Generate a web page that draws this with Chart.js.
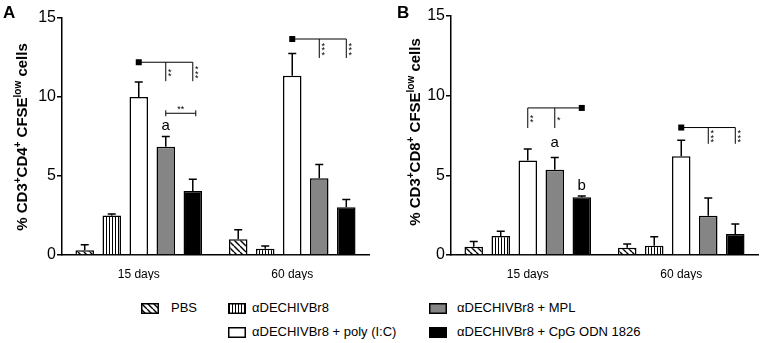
<!DOCTYPE html>
<html>
<head>
<meta charset="utf-8">
<script src="https://cdn.jsdelivr.net/npm/chart.js@4"></script>
<style>
  body { margin:0; background:#fff; }
  #wrap { position:relative; width:762px; height:343px; font-family:"Liberation Sans", Arial, sans-serif; }
  .panel { position:absolute; top:0; }
  .lab { position:absolute; font-weight:bold; font-size:17px; color:#000; }
  .leg { position:absolute; font-size:13px; color:#000; white-space:nowrap; line-height:14px; }
  .sw { position:absolute; }
</style>
</head>
<body>
<div id="wrap">
  <canvas id="chartA" class="panel" style="left:0" width="380" height="280"></canvas>
  <canvas id="chartB" class="panel" style="left:380px" width="382" height="280"></canvas>
  <div class="lab" style="left:3px;top:3px">A</div>
  <div class="lab" style="left:397px;top:3px">B</div>
  <div id="legend"></div>
</div>
<script>
const days = ['15 days', '60 days'];
const groups = ['PBS', 'αDECHIVBr8', 'αDECHIVBr8 + poly (I:C)', 'αDECHIVBr8 + MPL', 'αDECHIVBr8 + CpG ODN 1826'];
const yTicks = [0, 5, 10, 15];

// mean per treatment, [15 days, 60 days]
const cd4Means = [[0.3, 1.0], [2.5, 0.4], [10.0, 11.35], [6.85, 4.85], [4.05, 3.02]];
const cd4Errs  = [[0.35, 0.6], [0.1, 0.17], [0.95, 1.4], [0.65, 0.87], [0.75, 0.5]];
const cd8Means = [[0.52, 0.46], [1.19, 0.58], [5.93, 6.2], [5.35, 2.47], [3.63, 1.32]];
const cd8Errs  = [[0.32, 0.23], [0.3, 0.57], [0.72, 1.0], [0.77, 1.1], [0.08, 0.63]];

// significance brackets: category, line value, tick bottom, square bar, end bar, ticks [bar, stars]
const cd4Brackets = [
  { cat:0, y:12.2, bottom:11.0, square:2, end:4, ticks:[[3, '**'], [4, '***']] },
  { cat:1, y:13.67, bottom:12.47, square:2, end:4, ticks:[[3, '***'], [4, '***']] }
];
const cd8Brackets = [
  { cat:0, y:9.23, bottom:7.97, square:4, end:2, ticks:[[2, '**'], [3, '*']] },
  { cat:1, y:8.0, bottom:6.98, square:2, end:4, ticks:[[3, '***'], [4, '***']] }
];
const cd4Spans = [{ cat:0, from:3, to:4, y:8.97, stars:'**' }];
const cd8Spans = [];
const cd4Letters = [{ cat:0, bar:3, y:7.9, text:'a' }];
const cd8Letters = [{ cat:0, bar:3, y:6.77, text:'a' }, { cat:0, bar:4, y:4.06, text:'b' }];

const FONT = '"Liberation Sans", Arial, sans-serif';

function makePattern(kind) {
  const c = document.createElement('canvas');
  const g = c.getContext('2d');
  if (kind === 'diag') {
    c.width = c.height = 6;
    g.fillStyle = '#fff'; g.fillRect(0, 0, 6, 6);
    g.strokeStyle = '#000'; g.lineWidth = 1.4;
    g.beginPath();
    for (let k = -1; k <= 1; k++) { g.moveTo(k * 6, 0); g.lineTo(k * 6 + 6, 6); }
    g.stroke();
  } else {
    c.width = 3; c.height = 3;
    g.fillStyle = '#fff'; g.fillRect(0, 0, 3, 3);
    g.fillStyle = '#000'; g.fillRect(1, 0, 1, 3);
  }
  return g.createPattern(c, 'repeat');
}
const fills = [makePattern('diag'), makePattern('vert'), '#ffffff', '#858585', '#000000'];

const errorBars = {
  id: 'errorBars',
  afterDatasetsDraw(chart, args, opts) {
    const ctx = chart.ctx, y = chart.scales.y;
    ctx.save();
    ctx.strokeStyle = '#000'; ctx.lineWidth = 1.5;
    opts.errs.forEach((errs, i) => {
      chart.getDatasetMeta(i).data.forEach((bar, j) => {
        const top = y.getPixelForValue(opts.means[i][j] + errs[j]);
        ctx.beginPath();
        ctx.moveTo(bar.x, bar.y); ctx.lineTo(bar.x, top);
        ctx.moveTo(bar.x - 4, top); ctx.lineTo(bar.x + 4, top);
        ctx.stroke();
      });
    });
    ctx.restore();
  }
};

const annotations = {
  id: 'annotations',
  afterDraw(chart, args, opts) {
    const ctx = chart.ctx, ys = chart.scales.y;
    const bx = (bar, cat) => chart.getDatasetMeta(bar).data[cat].x;
    ctx.save();
    ctx.strokeStyle = '#000'; ctx.fillStyle = '#000'; ctx.lineWidth = 1;
    opts.brackets.forEach(b => {
      const ly = ys.getPixelForValue(b.y), lb = ys.getPixelForValue(b.bottom);
      const xs = bx(b.square, b.cat), xe = bx(b.end, b.cat);
      ctx.beginPath(); ctx.moveTo(xs, ly); ctx.lineTo(xe, ly); ctx.stroke();
      ctx.fillRect(xs - 3, ly - 3, 6, 6);
      b.ticks.forEach(([bar, stars]) => {
        const tx = bx(bar, b.cat);
        ctx.beginPath(); ctx.moveTo(tx, ly); ctx.lineTo(tx, lb); ctx.stroke();
        ctx.font = '9px ' + FONT; ctx.textAlign = 'center';
        const mid = (ly + lb) / 2, n = stars.length;
        for (let k = 0; k < n; k++) {
          ctx.fillText('*', tx + 4, mid + (k - (n - 1) / 2) * 4.3 + 5);
        }
      });
    });
    opts.spans.forEach(s => {
      const ly = ys.getPixelForValue(s.y);
      const x1 = bx(s.from, s.cat), x2 = bx(s.to, s.cat) + 3;
      ctx.beginPath();
      ctx.moveTo(x1, ly); ctx.lineTo(x2, ly);
      ctx.moveTo(x1, ly - 3); ctx.lineTo(x1, ly + 3);
      ctx.moveTo(x2, ly - 3); ctx.lineTo(x2, ly + 3);
      ctx.stroke();
      ctx.font = '9px ' + FONT; ctx.textAlign = 'center';
      ctx.fillText(s.stars, (x1 + x2) / 2, ly - 1);
    });
    opts.letters.forEach(l => {
      ctx.font = '15px ' + FONT; ctx.textAlign = 'center'; ctx.textBaseline = 'alphabetic';
      ctx.fillText(l.text, bx(l.bar, l.cat), ys.getPixelForValue(l.y));
    });
    // y title with superscripts
    const parts = opts.title;
    ctx.translate(opts.titleX, opts.titleY);
    ctx.rotate(-Math.PI / 2);
    const big = 'bold 15px ' + FONT, small = 'bold 10px ' + FONT;
    let total = 0;
    parts.forEach(([t, sup]) => { ctx.font = sup ? small : big; total += ctx.measureText(t).width; });
    let x = -total / 2;
    ctx.textAlign = 'left'; ctx.textBaseline = 'alphabetic';
    parts.forEach(([t, sup]) => {
      ctx.font = sup ? small : big;
      ctx.fillText(t, x, sup ? -1 : 5);
      x += ctx.measureText(t).width;
    });
    ctx.restore();
  }
};

function makeChart(id, means, errs, opts) {
  return new Chart(document.getElementById(id), {
    type: 'bar',
    data: {
      labels: days,
      datasets: groups.map((g, i) => ({
        label: g,
        data: means[i],
        backgroundColor: fills[i],
        borderColor: '#000',
        borderWidth: 1.5,
        categoryPercentage: opts.catPct,
        barPercentage: 0.685
      }))
    },
    options: {
      responsive: false,
      animation: false,
      layout: { padding: { left: 0, top: opts.top, right: opts.right, bottom: 0 } },
      plugins: {
        legend: { display: false },
        tooltip: { enabled: false },
        errorBars: { means, errs },
        annotations: opts.ann
      },
      scales: {
        x: {
          grid: { display: false },
          border: { color: '#000', width: 1.5 },
          ticks: { color: '#000', font: { family: FONT, size: 12 }, padding: 4 },
          afterFit: s => { s.height = 25; }
        },
        y: {
          min: 0, max: 15,
          afterBuildTicks: s => { s.ticks = yTicks.map(v => ({ value: v })); },
          ticks: { color: '#000', font: { family: FONT, size: 16 }, padding: 1 },
          grid: { drawOnChartArea: false, color: '#000', lineWidth: 1.5, tickLength: 5 },
          border: { color: '#000', width: 1.5 },
          afterFit: s => { s.width = opts.axisW; }
        }
      }
    },
    plugins: [errorBars, annotations]
  });
}

makeChart('chartA', cd4Means, cd4Errs, {
  top: 18, right: 11, axisW: 62, catPct: 0.88,
  ann: { brackets: cd4Brackets, spans: cd4Spans, letters: cd4Letters, titleX: 22, titleY: 137,
         title: [['% CD3', 0], ['+', 1], ['CD4', 0], ['+', 1], [' CFSE', 0], ['low', 1], [' cells', 0]] }
});
makeChart('chartB', cd8Means, cd8Errs, {
  top: 16, right: 4, axisW: 71, catPct: 0.88,
  ann: { brackets: cd8Brackets, spans: cd8Spans, letters: cd8Letters, titleX: 35, titleY: 132,
         title: [['% CD3', 0], ['+', 1], ['CD8', 0], ['+', 1], [' CFSE', 0], ['low', 1], [' cells', 0]] }
});

// legend
const legendPos = [
  { sx: 141, tx: 171, y: 308 },
  { sx: 228, tx: 252, y: 308 },
  { sx: 228, tx: 252, y: 332 },
  { sx: 429, tx: 457, y: 308 },
  { sx: 429, tx: 457, y: 332 }
];
const legend = document.getElementById('legend');
groups.forEach((g, i) => {
  const p = legendPos[i];
  const c = document.createElement('canvas');
  c.width = 18; c.height = 11; c.className = 'sw';
  c.style.left = p.sx + 'px'; c.style.top = (p.y - 5.5) + 'px';
  const g2 = c.getContext('2d');
  g2.fillStyle = fills[i]; g2.fillRect(0, 0, 18, 11);
  g2.strokeStyle = '#000'; g2.lineWidth = 1.5; g2.strokeRect(0.75, 0.75, 16.5, 9.5);
  legend.appendChild(c);
  const t = document.createElement('div');
  t.className = 'leg'; t.textContent = g;
  t.style.left = p.tx + 'px'; t.style.top = (p.y - 7) + 'px';
  legend.appendChild(t);
});
</script>
</body>
</html>
